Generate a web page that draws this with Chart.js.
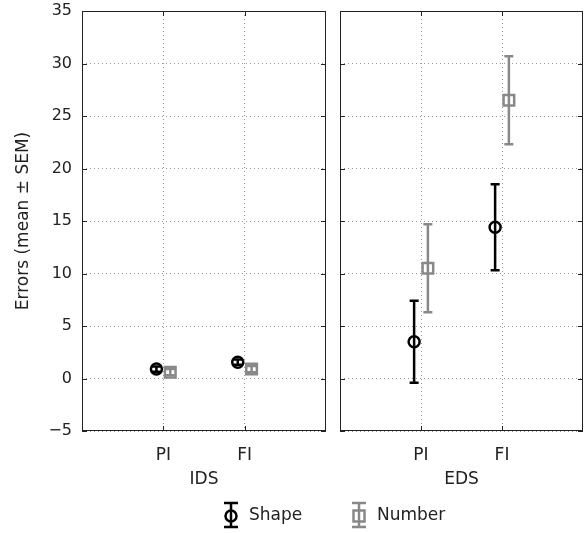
<!DOCTYPE html>
<html>
<head>
<meta charset="utf-8">
<script src="https://cdn.jsdelivr.net/npm/chart.js@4"></script>
<style>
  body{margin:0;background:#fff;}
  #wrap{position:relative;width:584px;height:533px;}
  canvas{position:absolute;top:0;}
</style>
</head>
<body>
<div id="wrap">
  <canvas id="ids" width="584" height="533" style="left:0"></canvas>
  <canvas id="eds" width="251" height="533" style="left:333px"></canvas>
</div>
<script>
// data
const conditions=['PI','FI']
const idsShapeMean=[0.9,1.55]
const idsShapeSem=[0.25,0.25]
const idsNumberMean=[0.6,0.9]
const idsNumberSem=[0.3,0.3]
const edsShapeMean=[3.5,14.4]
const edsShapeSem=[3.9,4.1]
const edsNumberMean=[10.5,26.5]
const edsNumberSem=[4.2,4.2]
const yMin=-5, yMax=35, yStep=5

const FONT="'DejaVu Sans', sans-serif"
const shapeColor='#000'
const numberColor='#888'
const jitter=0.085

function points(means,off){
  return means.map((m,i)=>({x:i+1+off,y:m}))
}

// error bars under the markers
const errorBars={
  id:'errorBars',
  beforeDatasetsDraw(chart){
    const ctx=chart.ctx, ys=chart.scales.y
    chart.data.datasets.forEach((ds,i)=>{
      const meta=chart.getDatasetMeta(i)
      ctx.save()
      ctx.strokeStyle=ds.borderColor
      ctx.lineWidth=2.5
      meta.data.forEach((pt,j)=>{
        const m=ds.data[j].y, s=ds.sem[j]
        const t=ys.getPixelForValue(m+s), b=ys.getPixelForValue(m-s)
        ctx.beginPath()
        ctx.moveTo(pt.x,t);ctx.lineTo(pt.x,b)
        ctx.moveTo(pt.x-4.5,t);ctx.lineTo(pt.x+4.5,t)
        ctx.moveTo(pt.x-4.5,b);ctx.lineTo(pt.x+4.5,b)
        ctx.stroke()
      })
      ctx.restore()
    })
  }
}

// box round the plot with inward ticks
const panelBox={
  id:'panelBox',
  afterDraw(chart){
    const {ctx,chartArea:a,scales:{x,y}}=chart
    ctx.save()
    ctx.strokeStyle='#222'
    ctx.lineWidth=1
    ctx.strokeRect(a.left+0.5,a.top+0.5,a.width-1,a.height-1)
    ctx.beginPath()
    y.ticks.forEach(t=>{
      const py=Math.round(y.getPixelForValue(t.value))+0.5
      ctx.moveTo(a.left,py);ctx.lineTo(a.left+5,py)
      ctx.moveTo(a.right,py);ctx.lineTo(a.right-5,py)
    })
    x.ticks.forEach(t=>{
      const px=Math.round(x.getPixelForValue(t.value))+0.5
      ctx.moveTo(px,a.top);ctx.lineTo(px,a.top+5)
      ctx.moveTo(px,a.bottom);ctx.lineTo(px,a.bottom-5)
    })
    ctx.stroke()
    ctx.restore()
  }
}

// legend below both panels
const bottomLegend={
  id:'bottomLegend',
  afterDraw(chart){
    const ctx=chart.ctx
    const cy=516
    ctx.save()
    ctx.lineWidth=2.5
    // Shape
    ctx.strokeStyle=shapeColor
    let cx=231
    ctx.beginPath()
    ctx.moveTo(cx,503);ctx.lineTo(cx,527)
    ctx.moveTo(cx-7,503);ctx.lineTo(cx+7,503)
    ctx.moveTo(cx-7,527);ctx.lineTo(cx+7,527)
    ctx.stroke()
    ctx.beginPath();ctx.arc(cx,cy,5.5,0,Math.PI*2);ctx.stroke()
    // Number
    ctx.strokeStyle=numberColor
    cx=359
    ctx.beginPath()
    ctx.moveTo(cx,503);ctx.lineTo(cx,527)
    ctx.moveTo(cx-7,503);ctx.lineTo(cx+7,503)
    ctx.moveTo(cx-7,527);ctx.lineTo(cx+7,527)
    ctx.stroke()
    ctx.strokeRect(cx-5.5,cy-5.5,11,11)
    ctx.fillStyle='#222'
    ctx.font='17px '+FONT
    ctx.textBaseline='middle'
    ctx.fillText('Shape',249,cy)
    ctx.fillText('Number',377,cy)
    ctx.restore()
  }
}

function makeChart(id,group,shapeMean,shapeSem,numberMean,numberSem,first){
  const ctx=document.getElementById(id).getContext('2d')
  return new Chart(ctx,{
    type:'scatter',
    data:{
      datasets:[
        {
          label:'Shape',
          data:points(shapeMean,-jitter),
          sem:shapeSem,
          borderColor:shapeColor,
          backgroundColor:'rgba(0,0,0,0)',
          pointStyle:'circle',
          pointRadius:5.5,
          pointBorderWidth:2.5,
        },
        {
          label:'Number',
          data:points(numberMean,jitter),
          sem:numberSem,
          borderColor:numberColor,
          backgroundColor:'rgba(0,0,0,0)',
          pointStyle:'rect',
          pointRadius:7.5,
          pointBorderWidth:2.5,
        }
      ]
    },
    options:{
      responsive:false,
      animation:false,
      layout:{
        autoPadding:false,
        padding:first?{left:0,top:11,right:258,bottom:0}:{left:7,top:11,right:1,bottom:0}
      },
      plugins:{legend:{display:false},tooltip:{enabled:false}},
      scales:{
        x:{
          type:'linear',min:0,max:3,
          afterBuildTicks(s){s.ticks=conditions.map((c,i)=>({value:i+1}))},
          afterFit(s){s.height=102;s.paddingLeft=0;s.paddingRight=0},
          ticks:{
            callback:(v)=>conditions[v-1],
            color:'#222',font:{family:FONT,size:17},padding:14,
            maxRotation:0,autoSkip:false
          },
          grid:{color:'#999',drawTicks:false},
          border:{display:false,dash:[1,3]},
          title:{display:true,text:group,color:'#222',font:{family:FONT,size:17},padding:{top:0,bottom:43}}
        },
        y:{
          min:yMin,max:yMax,
          afterFit(s){s.width=first?82:0;s.paddingTop=0;s.paddingBottom=0},
          ticks:{
            display:first,stepSize:yStep,
            callback:(v)=>String(v).replace('-','\u2212'),
            color:'#222',font:{family:FONT,size:16},padding:10
          },
          grid:{color:'#999',drawTicks:false},
          border:{display:false,dash:[1,3]},
          title:{display:first,text:'Errors (mean \u00b1 SEM)',color:'#222',font:{family:FONT,size:17},padding:{top:13,bottom:0}}
        }
      }
    },
    plugins:first?[errorBars,panelBox,bottomLegend]:[errorBars,panelBox]
  })
}

makeChart('ids','IDS',idsShapeMean,idsShapeSem,idsNumberMean,idsNumberSem,true)
makeChart('eds','EDS',edsShapeMean,edsShapeSem,edsNumberMean,edsNumberSem,false)
</script>
</body>
</html>
